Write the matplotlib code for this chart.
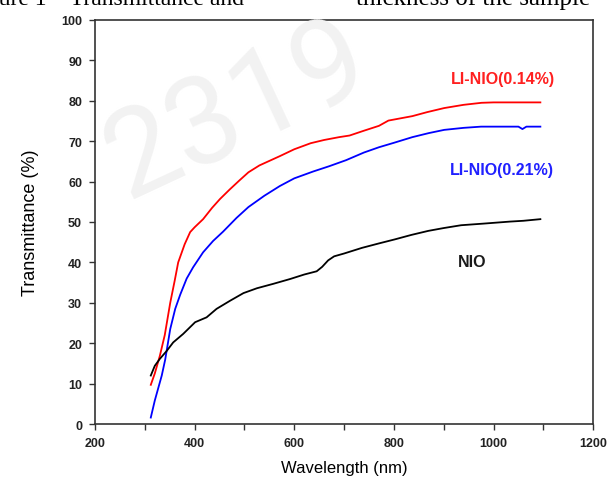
import matplotlib
matplotlib.use("Agg")
import matplotlib.pyplot as plt
from matplotlib.ticker import MultipleLocator

plt.rcParams["font.family"] = ["Liberation Sans", "DejaVu Sans"]

# Transmittance spectra (wavelength in nm, T in %)
wl_014 = [312, 320, 330, 340, 351, 360, 367, 380, 391, 400, 417, 435, 451, 470,
          490, 508, 530, 571, 600, 633, 660, 690, 711, 740, 770, 789, 837, 867,
          901, 940, 976, 1000, 1040, 1094]
t_014 = [9.7, 12.5, 16.8, 22.0, 30.0, 35.5, 40.0, 44.5, 47.5, 48.7, 50.7, 53.5,
         55.7, 58.0, 60.3, 62.3, 64.0, 66.3, 68.0, 69.5, 70.3, 71.0, 71.4, 72.6,
         73.8, 75.1, 76.2, 77.2, 78.2, 79.0, 79.5, 79.6, 79.6, 79.6]

wl_021 = [312, 320, 334, 341, 351, 361, 371, 384, 397, 417, 437, 457, 484, 508,
          540, 571, 600, 638, 670, 704, 740, 770, 800, 837, 870, 901, 940, 975,
          1030, 1050, 1058, 1066, 1094]
t_021 = [1.6, 5.8, 12.0, 16.0, 23.5, 28.5, 32.0, 36.0, 38.8, 42.5, 45.3, 47.6,
         51.0, 53.7, 56.5, 58.9, 60.8, 62.5, 63.8, 65.3, 67.2, 68.5, 69.6, 71.0,
         72.0, 72.8, 73.3, 73.6, 73.6, 73.6, 73.0, 73.6, 73.6]

wl_nio = [312, 320, 330, 344, 357, 377, 401, 424, 444, 471, 498, 525, 558, 592,
          620, 645, 656, 668, 680, 700, 736, 770, 802, 835, 869, 900, 935, 980,
          1033, 1060, 1094]
t_nio = [12.0, 14.4, 16.1, 18.1, 20.2, 22.3, 25.2, 26.4, 28.5, 30.5, 32.4, 33.6,
         34.7, 35.9, 37.0, 37.8, 38.9, 40.5, 41.5, 42.2, 43.6, 44.7, 45.7, 46.8,
         47.8, 48.5, 49.2, 49.6, 50.1, 50.3, 50.7]

x_ticks = [200, 400, 600, 800, 1000, 1200]
y_ticks = list(range(0, 101, 10))

fig = plt.figure(figsize=(6.09, 4.81), dpi=100)
ax = fig.add_axes([0.156, 0.1164, 0.818, 0.84])

# faint stamp in the background
fig.text(0.389, 0.767, "2319", fontsize=88, color="#f2f2f2", rotation=25,
         ha="center", va="center", zorder=0, family="Roboto")
ax.patch.set_alpha(0)

# caption line, mostly cut at the top edge
fig.text(-0.055, 0.990, "Figure 1    Transmittance and", fontsize=17,
         family="Liberation Serif", ha="left", va="baseline")
fig.text(0.969, 0.990, "thickness of the sample", fontsize=18,
         family="Liberation Serif", ha="right", va="baseline")

ax.plot(wl_014, t_014, color="#ff0000", lw=1.3)
ax.plot(wl_021, t_021, color="#0000ff", lw=1.3)
ax.plot(wl_nio, t_nio, color="#000000", lw=1.3)

ax.text(915, 85.4, "LI-NIO(0.14%)", color="#ff2020", fontsize=11.5,
        fontweight="bold", va="center")
ax.text(913, 62.9, "LI-NIO(0.21%)", color="#2020ff", fontsize=11.5,
        fontweight="bold", va="center")
ax.text(929, 40.1, "NIO", color="#1a1a1a", fontsize=11.5,
        fontweight="bold", va="center")

ax.set_xlim(200, 1200)
ax.set_ylim(0, 100)
ax.set_xticks(x_ticks)
ax.set_yticks(y_ticks)
ax.xaxis.set_minor_locator(MultipleLocator(100))
ax.tick_params(which="both", direction="out", top=False, right=False,
               width=1.0, length=4.3, colors="#333333", labelcolor="#222222",
               labelsize=9, pad=5)
for lbl in ax.get_xticklabels() + ax.get_yticklabels():
    lbl.set_fontweight("bold")
for sp in ax.spines.values():
    sp.set_linewidth(1.2)
    sp.set_color("#333333")

ax.set_xlabel("Wavelength (nm)", fontsize=12, labelpad=8)
ax.set_ylabel("Transmittance (%)", fontsize=13, labelpad=16)

fig.savefig("out.png", dpi=100)
